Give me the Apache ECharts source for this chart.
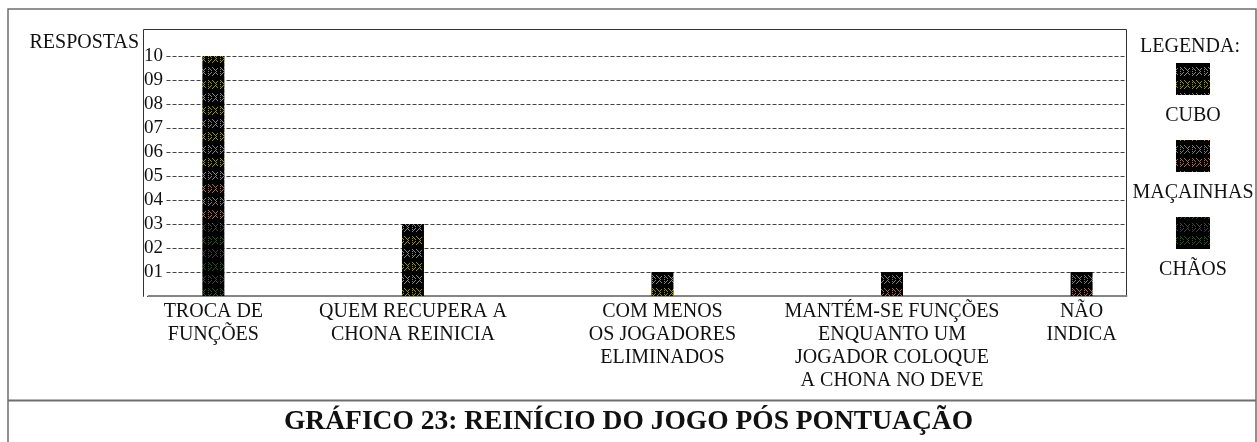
<!DOCTYPE html>
<html>
<head>
<meta charset="utf-8">
<script src="https://cdn.jsdelivr.net/npm/echarts@6/dist/echarts.min.js"></script>
<style>
  html, body { margin: 0; padding: 0; background: #fff; }
  #chart { width: 1257px; height: 442px; }
</style>
</head>
<body>
<div id="chart"></div>
<script>
// ---- data ----
const categories = [
  'TROCA DE\nFUNÇÕES',
  'QUEM RECUPERA A\nCHONA REINICIA',
  'COM MENOS\nOS JOGADORES\nELIMINADOS',
  'MANTÉM-SE FUNÇÕES\nENQUANTO UM\nJOGADOR COLOQUE\nA CHONA NO DEVE',
  'NÃO\nINDICA'
];
const seriesNames = ['CUBO', 'MAÇAINHAS', 'CHÃOS'];
const cubo      = [5, 3, 1, 0, 0];
const macainhas = [2, 0, 0, 1, 1];
const chaos     = [3, 0, 0, 0, 0];
const yTickLabels = ['01', '02', '03', '04', '05', '06', '07', '08', '09', '10'];
const titleText = 'GRÁFICO 23: REINÍCIO DO JOGO PÓS PONTUAÇÃO';
const yName = 'RESPOSTAS';
const legendTitle = 'LEGENDA:';

// ---- layout: the answers sit on an uneven row, so the x axis is split into narrow slots ----
const SLOT_COUNT = 98;
const CATEGORY_SLOT = [6, 26, 51, 74, 93];
const FONT = '"Liberation Serif", "DejaVu Serif", serif';

const xData = new Array(SLOT_COUNT).fill('');
CATEGORY_SLOT.forEach((s, i) => { xData[s] = categories[i]; });

function toSlots(values) {
  const out = new Array(SLOT_COUNT).fill('-');
  CATEGORY_SLOT.forEach((s, i) => { if (values[i]) out[s] = values[i]; });
  return out;
}

// dotted interlaced-ring fill on black, one colour per series
function makeTile(color) {
  const W = 12, H = 13;
  const c = document.createElement('canvas');
  c.width = W; c.height = H;
  const g = c.getContext('2d');
  g.fillStyle = '#000';
  g.fillRect(0, 0, W, H);
  g.fillStyle = color;
  const centers = [[4, 6.5], [8, 6.5]];
  const r = 3.6;
  for (let y = 0; y < H; y++) {
    for (let x = 0; x < W; x++) {
      if ((x + y) % 2) continue;
      let on = false;
      for (const [cx, cy] of centers) {
        for (const dx of [-W, 0, W]) {
          const d = Math.hypot(x + 0.5 - (cx + dx), y + 0.5 - cy);
          if (Math.abs(d - r) < 0.55) on = true;
        }
      }
      if (on) g.fillRect(x, y, 1, 1);
    }
  }
  return c;
}

const seriesColors = { 'CUBO': '#8e8e2c', 'MAÇAINHAS': '#917354', 'CHÃOS': '#36482d' };
const patterns = {};
seriesNames.forEach(n => { patterns[n] = { image: makeTile(seriesColors[n]), repeat: 'repeat' }; });

const valuesByName = { 'CUBO': cubo, 'MAÇAINHAS': macainhas, 'CHÃOS': chaos };
// stacked bottom-up: CHÃOS, MAÇAINHAS, CUBO
const stackOrder = ['CHÃOS', 'MAÇAINHAS', 'CUBO'];

const series = stackOrder.map(name => ({
  name: name,
  type: 'bar',
  stack: 'total',
  barWidth: 22,
  data: toSlots(valuesByName[name]),
  itemStyle: { color: patterns[name] },
  emphasis: { disabled: true },
  silent: true
}));

// legend built as text-over-swatch blocks
const legendX = 1193;
const legendEls = [{
  type: 'text',
  style: { text: legendTitle, x: 1190, y: 47, font: '20px ' + FONT, fill: '#111',
           textAlign: 'center', textVerticalAlign: 'middle', align: 'center', verticalAlign: 'middle' }
}];
seriesNames.forEach((name, k) => {
  legendEls.push({
    type: 'rect',
    shape: { x: legendX - 17, y: 63 + 77 * k, width: 34, height: 32 },
    style: { fill: patterns[name] }
  });
  legendEls.push({
    type: 'text',
    style: { text: name, x: legendX, y: 116 + 77 * k, font: '20px ' + FONT, fill: '#111',
             textAlign: 'center', textVerticalAlign: 'middle', align: 'center', verticalAlign: 'middle' }
  });
});

const frameEls = [
  // outer frame and title separator
  { type: 'rect', shape: { x: 8, y: 9, width: 1248, height: 440 },
    style: { fill: 'none', stroke: '#6e6e6e', lineWidth: 1.5 }, z: 0 },
  { type: 'line', shape: { x1: 8, y1: 400.5, x2: 1256, y2: 400.5 },
    style: { stroke: '#6e6e6e', lineWidth: 2 }, z: 0 },
  // plot box
  { type: 'rect', shape: { x: 143.5, y: 29.5, width: 983, height: 267 },
    style: { fill: 'none', stroke: '#333', lineWidth: 1 }, z: 0 },
  // axis title
  { type: 'text',
    style: { text: yName, x: 139, y: 43, font: '20px ' + FONT, fill: '#111',
             textAlign: 'right', textVerticalAlign: 'middle', align: 'right', verticalAlign: 'middle' } }
];

const chart = echarts.init(document.getElementById('chart'), null, { renderer: 'canvas' });
chart.setOption({
  animation: false,
  backgroundColor: '#fff',
  title: {
    text: titleText,
    left: 'center',
    top: 408,
    padding: 0,
    textStyle: { fontFamily: FONT, fontWeight: 'bold', fontSize: 27.5, color: '#111' }
  },
  grid: { left: 148.5, top: 56, width: 978, height: 240, containLabel: false },
  xAxis: {
    type: 'category',
    data: xData,
    axisLine: { show: true, lineStyle: { color: '#858585', width: 2 } },
    axisTick: { show: false },
    axisLabel: {
      interval: 0, margin: 4, color: '#111',
      fontFamily: FONT, fontSize: 20, lineHeight: 23, align: 'center'
    },
    splitLine: { show: false }
  },
  yAxis: {
    type: 'value',
    min: 0, max: 10, interval: 1,
    axisLine: { show: false },
    axisTick: { show: false },
    axisLabel: {
      margin: 4.5, align: 'left', color: '#111',
      fontFamily: FONT, fontSize: 19,
      backgroundColor: '#fff', padding: [3, 3, 0, 0],
      formatter: v => (v >= 1 ? yTickLabels[v - 1] : '')
    },
    splitLine: { show: true, lineStyle: { color: '#444', width: 1, type: [4, 2] } }
  },
  graphic: frameEls.concat(legendEls),
  series: series
});
</script>
</body>
</html>
